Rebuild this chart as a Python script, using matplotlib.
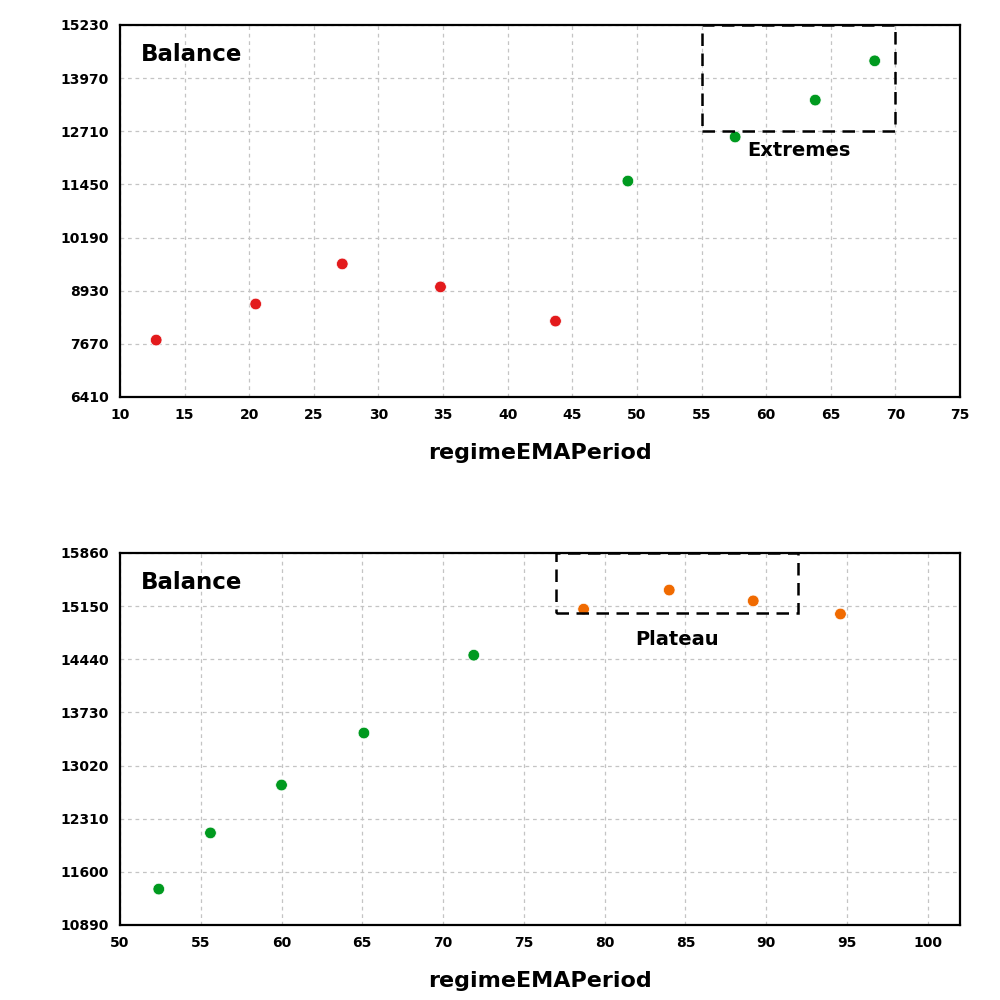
import numpy as np
import matplotlib.pyplot as plt
from matplotlib.patches import Rectangle

# top panel
top_x = [12.8, 20.5, 27.2, 34.8, 43.7, 49.3, 57.6, 63.8, 68.4]
top_y = [7760, 8615, 9565, 9020, 8210, 11530, 12575, 13450, 14380]
top_colors = ['#e31a1c'] * 5 + ['#009a1f'] * 4
top_yticks = [6410, 7670, 8930, 10190, 11450, 12710, 13970, 15230]

# bottom panel
bot_x = [52.4, 55.6, 60.0, 65.1, 71.9, 78.7, 84.0, 89.2, 94.6]
bot_y = [11370, 12120, 12760, 13455, 14495, 15110, 15365, 15220, 15045]
bot_colors = ['#009a1f'] * 5 + ['#f06a00'] * 4
bot_yticks = [10890, 11600, 12310, 13020, 13730, 14440, 15150, 15860]

fig = plt.figure(figsize=(10, 10), dpi=100)
ax1 = fig.add_axes([0.12, 0.603, 0.84, 0.372])
ax2 = fig.add_axes([0.12, 0.075, 0.84, 0.372])


def style(ax, xlim, xticks, yticks):
    ax.set_xlim(*xlim)
    ax.set_ylim(yticks[0], yticks[-1])
    ax.set_xticks(xticks)
    ax.set_yticks(yticks)
    ax.grid(True, linestyle=(0, (3, 3)), color='#c4c4c4', linewidth=0.9)
    ax.set_axisbelow(True)
    for sp in ax.spines.values():
        sp.set_linewidth(1.6)
    ax.tick_params(length=0, pad=8)
    for lab in ax.get_xticklabels() + ax.get_yticklabels():
        lab.set_fontweight('bold')
        lab.set_fontsize(10)
    ax.set_xlabel('regimeEMAPeriod', fontsize=16, fontweight='bold', labelpad=15)
    ax.text(0.025, 0.922, 'Balance', transform=ax.transAxes, fontsize=16.5,
            fontweight='bold', va='center', ha='left')


style(ax1, (10, 75), range(10, 80, 5), top_yticks)
ax1.scatter(top_x, top_y, c=top_colors, s=70, edgecolors='white', linewidths=0.5, zorder=3)
ax1.add_patch(Rectangle((55, 12710), 15, 15230 - 12710, fill=False, edgecolor='black',
                        linestyle=(0, (5, 3)), linewidth=1.8, zorder=4))
ax1.text(62.5, 12260, 'Extremes', ha='center', va='center', fontsize=14, fontweight='bold')

style(ax2, (50, 102), range(50, 101, 5), bot_yticks)
ax2.scatter(bot_x, bot_y, c=bot_colors, s=70, edgecolors='white', linewidths=0.5, zorder=3)
ax2.add_patch(Rectangle((77, 15060), 15, 15860 - 15060, fill=False, edgecolor='black',
                        linestyle=(0, (5, 3)), linewidth=1.8, zorder=4))
ax2.text(84.5, 14700, 'Plateau', ha='center', va='center', fontsize=14, fontweight='bold')

fig.savefig('out.png', dpi=100)
